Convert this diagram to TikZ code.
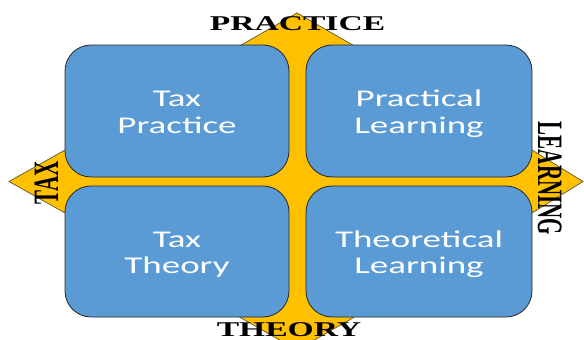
\documentclass[tikz,border=0pt]{standalone}
\usepackage{fontspec}
\usepackage{graphicx}
\newfontfamily\lblfont{Liberation Serif}
\newfontfamily\boxfont{Carlito}
\definecolor{qblue}{HTML}{5B9BD5}
\definecolor{qgold}{HTML}{FFC000}
\definecolor{qgoldline}{HTML}{5E5530}
\definecolor{qedge}{HTML}{262626}
\newcommand\hlbl[1]{\scalebox{1.6}[1]{\lblfont\bfseries #1}}
\newcommand\vlbl[1]{\scalebox{1}[1.7]{\lblfont\bfseries #1}}
\newcommand\qtxt[2]{\scalebox{1.54}[1]{\begin{tabular}{@{}c@{}}#1\\#2\end{tabular}}}
\begin{document}
\begin{tikzpicture}[x=1pt,y=-1pt,
  qbox/.style={draw=qedge, line width=0.8pt, fill=qblue, rounded corners=26pt, inner sep=0pt, minimum height=132pt},
  qtext/.style={text=white, inner sep=0pt, font=\boxfont\fontsize{24}{26.5}\selectfont},
  axislbl/.style={inner sep=0pt, text=black, font=\fontsize{21}{25}\selectfont},
  crossarrow/.style={fill=qgold, draw=qgoldline, line width=0.7pt, line join=miter}]
\useasboundingbox (0,0) rectangle (584,340);
\clip (0,0) rectangle (584,340);
% four-headed cross arrow behind the matrix
\draw[crossarrow] (297,13) -- (354.5,46) -- (335,46) -- (335,148.9) -- (530.2,148.9)
  -- (583,181.5) -- (530.2,214.1) -- (335,214.1) -- (335,315) -- (358,315)
  -- (297,350) -- (236,315) -- (259,315) -- (259,214.1) -- (67,214.1)
  -- (9,181.5) -- (67,148.9) -- (259,148.9) -- (259,46) -- (239.5,46) -- cycle;
% boxes
\node[qbox, minimum width=224pt] (tlbox) at (177,111) {};
\node[qbox, minimum width=226pt] (trbox) at (419,111) {};
\node[qbox, minimum width=224pt, minimum height=131pt] (blbox) at (177,251.5) {};
\node[qbox, minimum width=226pt, minimum height=131pt] (brbox) at (419,251.5) {};
% box texts
\node[qtext] (tltext) at ([yshift=-3.6pt]tlbox.center) {\qtxt{Tax}{Practice}};
\node[qtext] (trtext) at ([yshift=-3.6pt]trbox.center) {\qtxt{Practical}{Learning}};
\node[qtext] (bltext) at ([yshift=-3.6pt]blbox.center) {\qtxt{Tax}{Theory}};
\node[qtext] (brtext) at ([yshift=-3.6pt]brbox.center) {\qtxt{Theoretical}{Learning}};
% axis labels
\node[axislbl, anchor=base] (practice) at (297.5,30.7) {\hlbl{PRACTICE}};
\node[axislbl, anchor=base] (theory) at (289,336.3) {\hlbl{THEORY}};
\node[axislbl, rotate=90, anchor=base] (tax) at (58,183) {\vlbl{TAX}};
\node[axislbl, rotate=-90, anchor=base] (learning) at (538,178.5) {\vlbl{LEARNING}};
\end{tikzpicture}
\end{document}
